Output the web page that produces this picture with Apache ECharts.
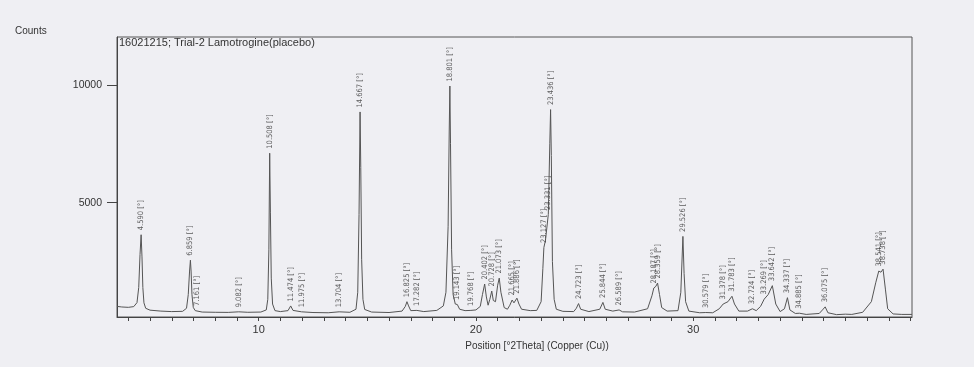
<!DOCTYPE html>
<html>
<head>
<meta charset="utf-8">
<script src="https://cdn.jsdelivr.net/npm/echarts@6/dist/echarts.min.js"></script>
<style>
html,body{margin:0;padding:0;background:#efeff3;}
#c{width:974px;height:367px;}
</style>
</head>
<body>
<div id="c"></div>
<script>
// Trace: 2Theta (deg) and counts
const twoTheta = [3.48,3.7,4.0,4.25,4.4,4.48,4.54,4.59,4.63,4.67,4.72,4.8,5.0,5.5,6.0,6.5,6.68,6.76,6.82,6.859,6.89,6.93,6.99,7.08,7.161,7.4,8.0,8.6,9.082,9.5,10.1,10.35,10.42,10.47,10.508,10.54,10.58,10.64,10.75,11.0,11.35,11.474,11.58,11.975,12.5,13.2,13.704,14.2,14.48,14.56,14.62,14.667,14.7,14.74,14.8,14.88,15.2,16.0,16.6,16.75,16.825,16.9,17.0,17.282,17.6,18.2,18.5,18.62,18.72,18.77,18.801,18.83,18.88,18.95,19.05,19.143,19.25,19.5,19.768,20.0,20.2,20.3,20.402,20.48,20.56,20.64,20.728,20.8,20.9,21.0,21.073,21.15,21.3,21.45,21.56,21.665,21.75,21.886,21.98,22.1,22.5,22.8,23.0,23.08,23.127,23.2,23.331,23.4,23.436,23.47,23.52,23.6,23.7,24.0,24.5,24.62,24.723,24.82,25.2,25.7,25.844,25.95,26.3,26.589,26.75,27.3,27.9,28.1,28.187,28.28,28.359,28.45,28.55,28.8,29.3,29.43,29.526,29.58,29.65,29.8,30.3,30.579,30.9,31.2,31.378,31.6,31.783,31.9,32.1,32.5,32.724,32.9,33.1,33.269,33.45,33.642,33.8,34.0,34.2,34.337,34.45,34.7,34.885,35.2,35.8,35.95,36.075,36.2,36.6,37.0,37.3,37.8,38.2,38.4,38.541,38.64,38.738,38.85,38.95,39.2,39.6,40.07];
const counts = [600,575,560,590,760,1400,2800,3640,2700,1400,750,520,440,400,380,390,520,1100,2100,2560,2100,1100,560,420,430,360,350,345,370,350,360,450,900,3000,7100,4600,1800,700,420,380,420,620,430,370,340,330,370,350,480,1200,4500,8850,6500,2600,900,470,360,340,400,600,800,620,420,430,380,430,620,1200,4000,8000,9950,7500,3000,1100,700,680,480,420,430,450,600,1100,1550,1000,650,900,1250,850,800,1500,1800,1200,550,480,650,870,750,950,700,480,420,430,800,2200,3100,3400,4500,7500,8950,7000,2500,900,480,390,380,520,720,480,380,480,770,480,400,450,370,360,500,1050,1380,1450,1590,1100,550,400,420,1200,3570,2000,800,400,330,340,330,500,700,800,1030,700,400,400,500,420,600,910,1100,1480,700,380,500,970,450,300,310,260,300,450,580,330,250,270,260,350,800,1600,2100,2050,2180,1300,500,280,260,260];

// Peak labels
const peakPos = [4.590,6.859,7.161,9.082,10.508,11.474,11.975,13.704,14.667,16.825,17.282,18.801,19.143,19.768,20.402,20.728,21.073,21.665,21.886,23.127,23.331,23.436,24.723,25.844,26.589,28.187,28.359,29.526,30.579,31.378,31.783,32.724,33.269,33.642,34.337,34.885,36.075,38.541,38.738];
const peakHeight = [3640,2560,430,370,7100,620,370,370,8850,800,430,9950,680,430,1550,1250,1800,870,950,3100,4500,8950,720,770,450,1380,1590,3570,340,700,1030,500,910,1480,970,310,580,2100,2180];
const peakLabels = peakPos.map(p => p.toFixed(3) + ' [°]');

const yTicks = [5000, 10000];
const xLabelTicks = [10, 20, 30];
const xMinorTicks = [4,5,6,7,8,9,10,11,12,13,14,15,16,17,18,19,20,21,22,23,24,25,26,27,28,29,30,31,32,33,34,35,36,37,38,39,40];

const chart = echarts.init(document.getElementById('c'), null, {renderer: 'canvas'});
const trace = twoTheta.map((x, i) => [x, counts[i]]);
const marks = peakPos.map((x, i) => [x, peakHeight[i]]);

chart.setOption({
  backgroundColor: '#efeff3',
  animation: false,
  grid: {left: 117, right: 62, top: 37, bottom: 50, show: true, borderColor: '#555', borderWidth: 1, backgroundColor: 'transparent'},
  xAxis: {
    type: 'value', min: 3.48, max: 40.07,
    axisLine: {show: true, lineStyle: {color: '#444', width: 1}},
    axisTick: {show: true, length: 4, customValues: xMinorTicks, lineStyle: {color: '#444'}},
    axisLabel: {customValues: xLabelTicks, color: '#333', fontSize: 11, fontFamily: 'Liberation Sans, Arial, sans-serif', margin: 7, formatter: v => String(v)},
    splitLine: {show: false}
  },
  yAxis: {
    type: 'value', min: 150, max: 12030,
    axisLine: {show: true, lineStyle: {color: '#444', width: 1}},
    axisTick: {show: true, length: 10, customValues: yTicks, lineStyle: {color: '#444'}},
    axisLabel: {customValues: yTicks, color: '#333', fontSize: 10.5, fontFamily: 'Liberation Sans, Arial, sans-serif', margin: 15, formatter: v => String(v)},
    splitLine: {show: false}
  },
  graphic: [
    {type: 'text', left: 15, top: 26, style: {text: 'Counts', fill: '#333', fontSize: 10, fontFamily: 'Liberation Sans, Arial, sans-serif'}},
    {type: 'text', left: 119, top: 37, style: {text: '16021215; Trial-2 Lamotrogine(placebo)', fill: '#333', fontSize: 11, fontFamily: 'Liberation Sans, Arial, sans-serif'}},
    {type: 'text', x: 537, y: 346, style: {text: 'Position [°2Theta] (Copper (Cu))', fill: '#333', fontSize: 10, fontFamily: 'Liberation Sans, Arial, sans-serif', align: 'center', verticalAlign: 'middle'}}
  ],
  series: [
    {type: 'line', data: trace, showSymbol: false, symbol: 'none', lineStyle: {color: '#555', width: 1}, z: 2},
    {type: 'scatter', data: marks, symbolSize: 1, itemStyle: {color: 'rgba(0,0,0,0)'}, z: 3,
     label: {show: true, position: 'top', distance: 4, rotate: 90, align: 'left', verticalAlign: 'middle',
       formatter: p => peakLabels[p.dataIndex], color: '#333', fontSize: 7.5,
       fontFamily: 'Liberation Sans Narrow, DejaVu Sans Condensed, sans-serif'}}
  ]
});
</script>
</body>
</html>
